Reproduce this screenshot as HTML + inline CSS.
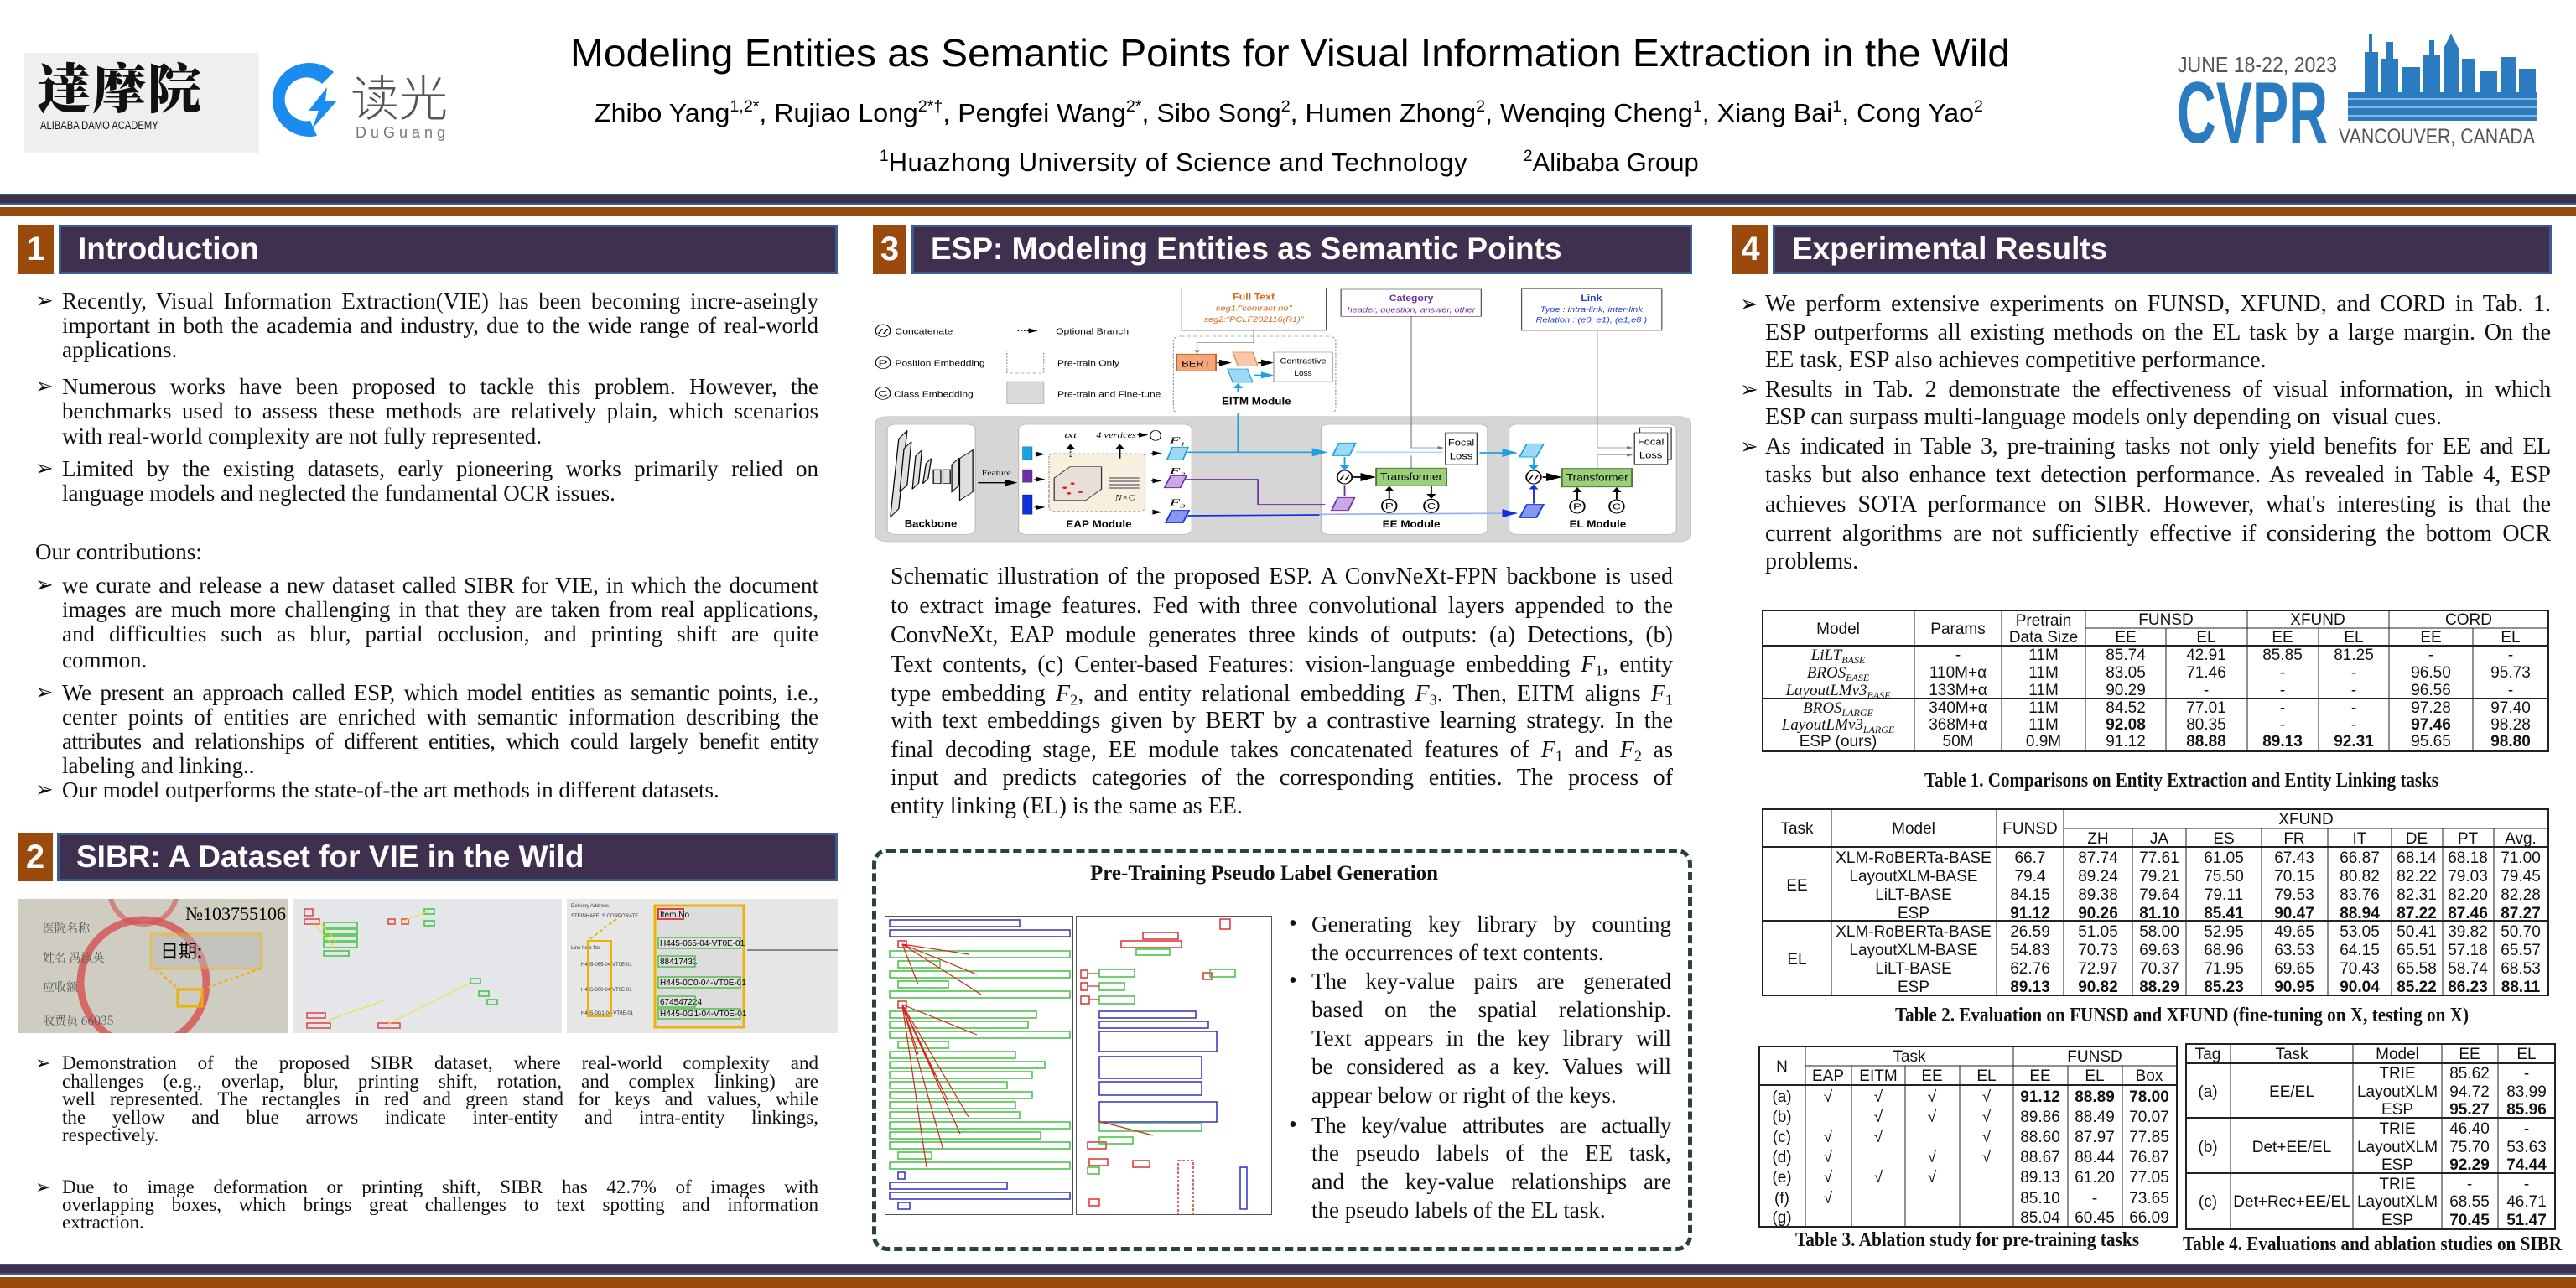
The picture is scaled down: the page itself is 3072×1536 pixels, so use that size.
<!DOCTYPE html>
<html><head><meta charset="utf-8">
<style>
*{margin:0;padding:0;box-sizing:border-box}
body{width:3072px;height:1536px;background:#fff;position:relative;overflow:hidden;font-family:"Liberation Serif",serif;color:#111}
.a{position:absolute}
.ln{position:absolute;height:24px;line-height:24px;white-space:nowrap;font-size:23px}
.i{height:28px;line-height:28px;font-size:27px}
.s{height:22px;line-height:22px;font-size:23px}
.j{text-align:justify;text-align-last:justify}
.hd{position:absolute;background:#403050;border:3px solid #3b5c8c;color:#fff;font-family:"Liberation Sans",sans-serif;font-weight:bold;font-size:37px;line-height:52px;padding-left:20px}
.nb{position:absolute;background:#9a4a0c;color:#fff;font-family:"Liberation Sans",sans-serif;font-weight:bold;font-size:40px;text-align:center;line-height:59px}
.c2{font-size:28px;height:34px;line-height:34px}
.bul{position:absolute;font-size:22px;line-height:24px}
.bi{font-size:26px;line-height:28px}
sub{font-size:65%;vertical-align:-0.25em;line-height:0}
</style></head><body>

<!-- Header -->
<div class="a" style="left:29px;top:63px;width:280px;height:119px;background:#efefef"></div>
<div class="a" style="left:44px;top:64px;font-family:'Noto Serif CJK SC',serif;font-weight:900;font-size:64px;line-height:76px;letter-spacing:2px">達摩院</div>
<div class="a" style="left:48px;top:141px;font-family:'Liberation Sans',sans-serif;font-size:14px;line-height:16px;transform:scaleX(0.8);transform-origin:left">ALIBABA DAMO ACADEMY</div>
<svg class="a" style="left:318px;top:74px" width="92" height="96" viewBox="0 0 92 96">
<path d="M80 12 A44 44 0 1 0 60 88 L52 70 A26 26 0 1 1 66 26 Z" fill="#1a8cf0"/>
<path d="M72 30 L50 58 L62 58 L54 80 L84 46 L70 46 Z" fill="#1a8cf0"/>
</svg>
<div class="a" style="left:418px;top:78px;font-family:'Noto Sans CJK SC',sans-serif;font-weight:300;font-size:58px;line-height:70px;color:#555">读光</div>
<div class="a" style="left:424px;top:148px;font-family:'Liberation Sans',sans-serif;font-size:18px;letter-spacing:5px;color:#777">DuGuang</div>

<svg class="a" style="left:0;top:0" width="3072" height="230">
<text x="680" y="79" font-family="Liberation Sans" font-size="46" textLength="1717" lengthAdjust="spacingAndGlyphs">Modeling Entities as Semantic Points for Visual Information Extraction in the Wild</text>
<text x="709" y="145" font-family="Liberation Sans" font-size="31" textLength="1656" lengthAdjust="spacingAndGlyphs">Zhibo Yang<tspan font-size="19" dy="-12">1,2*</tspan><tspan dy="12">, Rujiao Long</tspan><tspan font-size="19" dy="-12">2*†</tspan><tspan dy="12">, Pengfei Wang</tspan><tspan font-size="19" dy="-12">2*</tspan><tspan dy="12">, Sibo Song</tspan><tspan font-size="19" dy="-12">2</tspan><tspan dy="12">, Humen Zhong</tspan><tspan font-size="19" dy="-12">2</tspan><tspan dy="12">, Wenqing Cheng</tspan><tspan font-size="19" dy="-12">1</tspan><tspan dy="12">, Xiang Bai</tspan><tspan font-size="19" dy="-12">1</tspan><tspan dy="12">, Cong Yao</tspan><tspan font-size="19" dy="-12">2</tspan></text>
<text x="1049" y="204" font-family="Liberation Sans" font-size="31"><tspan font-size="19" dy="-12">1</tspan><tspan dy="12" textLength="690">Huazhong University of Science and Technology</tspan></text>
<text x="1817" y="204" font-family="Liberation Sans" font-size="31"><tspan font-size="19" dy="-12">2</tspan><tspan dy="12">Alibaba Group</tspan></text>
<text x="2597" y="86" font-family="Liberation Sans" font-size="26" fill="#555" textLength="190" lengthAdjust="spacingAndGlyphs">JUNE 18-22, 2023</text>
<text x="2596" y="170" font-family="Liberation Sans" font-weight="bold" font-size="104" fill="#2a7bbf" textLength="180" lengthAdjust="spacingAndGlyphs">CVPR</text>
<text x="2789" y="171" font-family="Liberation Sans" font-size="25" fill="#555" textLength="234" lengthAdjust="spacingAndGlyphs">VANCOUVER, CANADA</text>
<g fill="#2a7bbf">
<rect x="2800" y="110" width="225" height="34"/>
<rect x="2820" y="62" width="16" height="60"/><rect x="2825" y="40" width="4" height="25"/>
<rect x="2840" y="70" width="20" height="50"/><rect x="2846" y="50" width="8" height="22"/>
<rect x="2864" y="80" width="22" height="40"/>
<rect x="2890" y="65" width="20" height="55"/><rect x="2897" y="48" width="6" height="20"/>
<rect x="2914" y="58" width="18" height="62"/><polygon points="2914,58 2923,40 2932,58"/>
<rect x="2936" y="70" width="16" height="50"/>
<rect x="2958" y="85" width="20" height="35"/>
<rect x="2982" y="68" width="18" height="52"/>
<rect x="3004" y="82" width="20" height="38"/>
</g>
<g stroke="#fff" stroke-width="1.5" opacity="0.6">
<line x1="2800" y1="118" x2="3025" y2="118"/><line x1="2800" y1="128" x2="3025" y2="128"/><line x1="2800" y1="138" x2="3025" y2="138"/>
</g>
</svg>

<!-- Bands -->
<div class="a" style="left:0;top:231px;width:3072px;height:13px;background:#403050;border-top:2px solid #3b5c8c;border-bottom:2px solid #3b5c8c"></div>
<div class="a" style="left:0;top:247px;width:3072px;height:11px;background:#974a0b"></div>
<div class="a" style="left:0;top:1507px;width:3072px;height:13px;background:#403050;border-top:2px solid #3b5c8c;border-bottom:2px solid #3b5c8c"></div>
<div class="a" style="left:0;top:1523px;width:3072px;height:13px;background:#974a0b"></div>

<!-- Section headers -->
<div class="nb" style="left:21px;top:268px;width:43px;height:59px">1</div>
<div class="hd" style="left:70px;top:268px;width:929px;height:59px">Introduction</div>
<div class="nb" style="left:1041px;top:268px;width:40px;height:59px">3</div>
<div class="hd" style="left:1087px;top:268px;width:931px;height:59px">ESP: Modeling Entities as Semantic Points</div>
<div class="nb" style="left:2066px;top:268px;width:43px;height:59px">4</div>
<div class="hd" style="left:2114px;top:268px;width:929px;height:59px">Experimental Results</div>
<div class="nb" style="left:21px;top:993px;width:42px;height:58px;line-height:58px">2</div>
<div class="hd" style="left:68px;top:993px;width:931px;height:58px;line-height:51px">SIBR: A Dataset for VIE in the Wild</div>

<!-- Intro text -->
<div class="bul bi" style="left:42px;top:345px">➢</div>
<div class="ln i j" style="left:74px;top:345px;width:902px">Recently, Visual Information Extraction(VIE) has been becoming incre-aseingly</div>
<div class="ln i j" style="left:74px;top:374px;width:902px">important in both the academia and industry, due to the wide range of real-world</div>
<div class="ln i" style="left:74px;top:403px">applications.</div>
<div class="bul bi" style="left:42px;top:447px">➢</div>
<div class="ln i j" style="left:74px;top:447px;width:902px">Numerous works have been proposed to tackle this problem. However, the</div>
<div class="ln i j" style="left:74px;top:476px;width:902px">benchmarks used to assess these methods are relatively plain, which scenarios</div>
<div class="ln i" style="left:74px;top:506px">with real-world complexity are not fully represented.</div>
<div class="bul bi" style="left:42px;top:545px">➢</div>
<div class="ln i j" style="left:74px;top:545px;width:902px">Limited by the existing datasets, early pioneering works primarily relied on</div>
<div class="ln i" style="left:74px;top:574px">language models and neglected the fundamental OCR issues.</div>
<div class="ln i" style="left:42px;top:644px">Our contributions:</div>
<div class="bul bi" style="left:42px;top:684px">➢</div>
<div class="ln i j" style="left:74px;top:684px;width:902px">we curate and release a new dataset called SIBR for VIE, in which the document</div>
<div class="ln i j" style="left:74px;top:713px;width:902px">images are much more challenging in that they are taken from real applications,</div>
<div class="ln i j" style="left:74px;top:742px;width:902px">and difficulties such as blur, partial occlusion, and printing shift are quite</div>
<div class="ln i" style="left:74px;top:773px">common.</div>
<div class="bul bi" style="left:42px;top:812px">➢</div>
<div class="ln i j" style="left:74px;top:812px;width:902px;letter-spacing:-0.3px">We present an approach called ESP, which model entities as semantic points, i.e.,</div>
<div class="ln i j" style="left:74px;top:841px;width:902px">center points of entities are enriched with semantic information describing the</div>
<div class="ln i j" style="left:74px;top:870px;width:902px;letter-spacing:-0.6px">attributes and relationships of different entities, which could largely benefit entity</div>
<div class="ln i" style="left:74px;top:899px">labeling and linking..</div>
<div class="bul bi" style="left:42px;top:928px">➢</div>
<div class="ln i" style="left:74px;top:928px">Our model outperforms the state-of-the art methods in different datasets.</div>

<!-- SIBR images -->
<svg class="a" style="left:21px;top:1072px" width="978" height="160" viewBox="0 0 978 160">
<rect x="0" y="0" width="323" height="160" fill="#cfcdc2"/>
<circle cx="150" cy="100" r="75" fill="none" stroke="#d45050" stroke-width="9" opacity="0.8"/>
<circle cx="150" cy="-10" r="40" fill="none" stroke="#d45050" stroke-width="6" opacity="0.6"/>
<text x="200" y="25" font-family="Liberation Serif" font-size="22">№103755106</text>
<text x="30" y="40" font-family="Noto Serif CJK SC" font-size="14" fill="#555">医院名称</text>
<text x="30" y="75" font-family="Noto Serif CJK SC" font-size="14" fill="#555">姓名 冯淑英</text>
<text x="30" y="110" font-family="Noto Serif CJK SC" font-size="14" fill="#555">应收额</text>
<text x="30" y="150" font-family="Noto Serif CJK SC" font-size="14" fill="#555">收费员 66035</text>
<rect x="159" y="42" width="132" height="41" fill="#bbb" opacity="0.5" stroke="#f0b000" stroke-width="3"/>
<text x="170" y="70" font-family="Noto Sans CJK SC" font-size="22">日期:</text>
<rect x="191" y="108" width="29" height="20" fill="none" stroke="#f0b000" stroke-width="3"/>
<line x1="165" y1="83" x2="192" y2="108" stroke="#f0b000" stroke-width="2" stroke-dasharray="4 3"/>
<line x1="290" y1="83" x2="220" y2="108" stroke="#f0b000" stroke-width="2" stroke-dasharray="4 3"/>
<rect x="328" y="0" width="321" height="160" fill="#e4e6ea"/>
<g fill="none" stroke="#e04040" stroke-width="1.5"><rect x="342" y="12" width="10" height="8"/><rect x="342" y="24" width="18" height="6"/><rect x="442" y="24" width="8" height="6"/><rect x="458" y="24" width="8" height="6"/><rect x="345" y="136" width="22" height="6"/><rect x="345" y="148" width="28" height="6"/><rect x="430" y="148" width="26" height="6"/></g>
<g fill="none" stroke="#40c040" stroke-width="1.5"><rect x="365" y="28" width="40" height="6"/><rect x="365" y="36" width="40" height="6"/><rect x="365" y="44" width="40" height="6"/><rect x="365" y="52" width="40" height="6"/><rect x="365" y="62" width="30" height="6"/><rect x="485" y="12" width="12" height="6"/><rect x="485" y="26" width="12" height="6"/><rect x="540" y="95" width="12" height="6"/><rect x="550" y="110" width="12" height="6"/><rect x="560" y="120" width="12" height="6"/></g>
<g stroke="#f0e020" stroke-width="1"><line x1="352" y1="28" x2="380" y2="60"/><line x1="360" y1="28" x2="380" y2="50"/><line x1="455" y1="28" x2="490" y2="15"/><line x1="370" y1="145" x2="440" y2="120"/><line x1="440" y1="150" x2="540" y2="100"/></g>
<rect x="655" y="0" width="323" height="160" fill="#e6e6e6"/>
<g font-family="Liberation Sans" font-size="6" fill="#333"><text x="660" y="10">Delivery Address</text><text x="660" y="22">STEINHAFELS CORPORATE</text><text x="660" y="60">Line  Item No</text><text x="672" y="80">H445-065-04-VT0E-01</text><text x="672" y="110">H445-000-04-VT0E-01</text><text x="672" y="138">H445-0G1-04-VT0E-01</text></g>
<rect x="680" y="50" width="28" height="90" fill="none" stroke="#f0b000" stroke-width="2"/>
<rect x="760" y="8" width="106" height="145" fill="#ddd" stroke="#f0b000" stroke-width="3"/>
<rect x="764" y="12" width="30" height="12" fill="none" stroke="#e04040" stroke-width="2"/>
<text x="766" y="22" font-family="Liberation Sans" font-size="10">Item No</text>
<g font-family="Liberation Sans" font-size="10"><text x="766" y="56">H445-065-04-VT0E-01</text><text x="766" y="78">88417431</text><text x="766" y="103">H445-0C0-04-VT0E-01</text><text x="766" y="126">674547224</text><text x="766" y="140">H445-0G1-04-VT0E-01</text></g>
<g fill="none" stroke="#50c050" stroke-width="1.5"><rect x="764" y="46" width="98" height="13"/><rect x="764" y="68" width="44" height="13"/><rect x="764" y="93" width="98" height="13"/><rect x="764" y="116" width="44" height="13"/><rect x="764" y="131" width="98" height="12"/></g>
<line x1="714" y1="24" x2="680" y2="50" stroke="#f0b000" stroke-width="2" stroke-dasharray="4 3"/>
<rect x="870" y="60" width="108" height="2" fill="#888"/>
</svg>

<!-- SIBR text -->
<div class="bul" style="left:42px;top:1256px">➢</div>
<div class="ln s j" style="left:74px;top:1257px;width:902px">Demonstration of the proposed SIBR dataset, where real-world complexity and</div>
<div class="ln s j" style="left:74px;top:1279px;width:902px">challenges (e.g., overlap, blur, printing shift, rotation, and complex linking) are</div>
<div class="ln s j" style="left:74px;top:1300px;width:902px">well represented. The rectangles in red and green stand for keys and values, while</div>
<div class="ln s j" style="left:74px;top:1322px;width:902px">the yellow and blue arrows indicate inter-entity and intra-entity linkings,</div>
<div class="ln s" style="left:74px;top:1343px">respectively.</div>
<div class="bul" style="left:42px;top:1404px">➢</div>
<div class="ln s j" style="left:74px;top:1405px;width:902px">Due to image deformation or printing shift, SIBR has 42.7% of images with</div>
<div class="ln s j" style="left:74px;top:1426px;width:902px">overlapping boxes, which brings great challenges to text spotting and information</div>
<div class="ln s" style="left:74px;top:1447px">extraction.</div>

<!-- ESP diagram -->
<svg class="a" style="left:1038px;top:330px" width="982" height="320" viewBox="0 0 1568 960" preserveAspectRatio="none" font-family="Liberation Sans">
<defs>
<marker id="ak" markerWidth="6" markerHeight="6" refX="5" refY="3" orient="auto"><path d="M0,0 L6,3 L0,6 Z" fill="#000"/></marker>
<marker id="ac" markerWidth="6" markerHeight="6" refX="5" refY="3" orient="auto"><path d="M0,0 L6,3 L0,6 Z" fill="#1aa3e0"/></marker>
<marker id="ab" markerWidth="6" markerHeight="6" refX="5" refY="3" orient="auto"><path d="M0,0 L6,3 L0,6 Z" fill="#1030e0"/></marker>
<marker id="ag" markerWidth="6" markerHeight="6" refX="5" refY="3" orient="auto"><path d="M0,0 L6,3 L0,6 Z" fill="#777"/></marker>
</defs>
<g stroke="#000" stroke-width="2" fill="#fff">
<ellipse cx="24" cy="193" rx="14" ry="22"/><ellipse cx="24" cy="307" rx="14" ry="22"/><ellipse cx="24" cy="417" rx="14" ry="22"/>
</g>
<g font-size="30">
<text x="14" y="204" font-size="24" textLength="20" lengthAdjust="spacingAndGlyphs">//</text>
<text x="15" y="318" font-size="28" textLength="18" lengthAdjust="spacingAndGlyphs">P</text>
<text x="15" y="428" font-size="28" textLength="18" lengthAdjust="spacingAndGlyphs">C</text>
<text x="47" y="205" textLength="110" lengthAdjust="spacingAndGlyphs">Concatenate</text>
<text x="47" y="320" textLength="171" lengthAdjust="spacingAndGlyphs">Position Embedding</text>
<text x="45" y="430" textLength="151" lengthAdjust="spacingAndGlyphs">Class Embedding</text>
<text x="353" y="205" textLength="139" lengthAdjust="spacingAndGlyphs">Optional Branch</text>
<text x="356" y="320" textLength="118" lengthAdjust="spacingAndGlyphs">Pre-train Only</text>
<text x="356" y="430" textLength="197" lengthAdjust="spacingAndGlyphs">Pre-train and Fine-tune</text>
</g>
<line x1="280" y1="193" x2="316" y2="193" stroke="#000" stroke-width="3" stroke-dasharray="3 3" marker-end="url(#ak)"/>
<rect x="260" y="265" width="70" height="80" fill="none" stroke="#999" stroke-width="2" stroke-dasharray="6 5"/>
<rect x="260" y="375" width="70" height="80" fill="#d9d9d9" stroke="#bbb" stroke-width="2"/>
<rect x="593" y="40" width="275" height="152" fill="#fff" stroke="#555" stroke-width="2"/>
<text x="730" y="82" text-anchor="middle" font-size="32" font-weight="bold" fill="#d2691e" textLength="80" lengthAdjust="spacingAndGlyphs">Full Text</text>
<text x="730" y="122" text-anchor="middle" font-size="28" font-style="italic" fill="#d2691e" textLength="145" lengthAdjust="spacingAndGlyphs">seg1:"contract no"</text>
<text x="730" y="162" text-anchor="middle" font-size="28" font-style="italic" fill="#d2691e" textLength="190" lengthAdjust="spacingAndGlyphs">seg2:"PCLF202116(R1)"</text>
<rect x="896" y="45" width="267" height="97" fill="#fff" stroke="#555" stroke-width="2"/>
<text x="1030" y="87" text-anchor="middle" font-size="32" font-weight="bold" fill="#7030a0" textLength="84" lengthAdjust="spacingAndGlyphs">Category</text>
<text x="1030" y="127" text-anchor="middle" font-size="28" font-style="italic" fill="#7030a0" textLength="244" lengthAdjust="spacingAndGlyphs">header, question, answer, other</text>
<rect x="1240" y="44" width="267" height="148" fill="#fff" stroke="#555" stroke-width="2"/>
<text x="1373" y="87" text-anchor="middle" font-size="32" font-weight="bold" fill="#1f3fcf" textLength="40" lengthAdjust="spacingAndGlyphs">Link</text>
<text x="1373" y="126" text-anchor="middle" font-size="28" font-style="italic" fill="#1f3fcf" textLength="195" lengthAdjust="spacingAndGlyphs">Type : intra-link, inter-link</text>
<text x="1373" y="164" text-anchor="middle" font-size="28" font-style="italic" fill="#1f3fcf" textLength="212" lengthAdjust="spacingAndGlyphs">Relation : (e0, e1), (e1,e8 )</text>
<rect x="577" y="213" width="309" height="275" rx="14" fill="none" stroke="#999" stroke-width="2" stroke-dasharray="7 5"/>
<polyline points="730,192 730,236 622,236 622,272" fill="none" stroke="#777" stroke-width="2" marker-end="url(#ag)"/>
<rect x="583" y="277" width="75" height="60" fill="#f4a77a" stroke="#c0622a" stroke-width="3"/>
<text x="620" y="322" text-anchor="middle" font-size="34" textLength="55" lengthAdjust="spacingAndGlyphs">BERT</text>
<line x1="660" y1="308" x2="684" y2="308" stroke="#000" stroke-width="4" marker-end="url(#ak)"/>
<polygon points="700,320 738,320 728,270 690,270" fill="#f8c8a8" stroke="#f08040" stroke-width="2"/>
<line x1="738" y1="308" x2="764" y2="308" stroke="#000" stroke-width="4" marker-end="url(#ak)"/>
<polygon points="690,378 728,378 718,330 680,330" fill="#9fd8f4" stroke="#1aa3e0" stroke-width="2"/>
<line x1="730" y1="352" x2="764" y2="352" stroke="#1aa3e0" stroke-width="4" marker-end="url(#ac)"/>
<rect x="768" y="270" width="112" height="105" fill="#fff" stroke="#999" stroke-width="2"/>
<text x="824" y="310" text-anchor="middle" font-size="28" textLength="88" lengthAdjust="spacingAndGlyphs">Contrastive</text>
<text x="824" y="354" text-anchor="middle" font-size="28" textLength="34" lengthAdjust="spacingAndGlyphs">Loss</text>
<line x1="700" y1="412" x2="700" y2="384" stroke="#1aa3e0" stroke-width="3" marker-end="url(#ac)"/>
<text x="735" y="457" text-anchor="middle" font-size="36" font-weight="bold" textLength="132" lengthAdjust="spacingAndGlyphs">EITM Module</text>
<rect x="10" y="500" width="1552" height="448" rx="22" fill="#d6d6d6" stroke="#c4c4c4" stroke-width="2"/>
<g fill="#fff" stroke="#bbb" stroke-width="2">
<rect x="32" y="528" width="168" height="394" rx="16"/>
<rect x="282" y="528" width="330" height="394" rx="16"/>
<rect x="858" y="528" width="317" height="394" rx="16"/>
<rect x="1216" y="528" width="319" height="394" rx="16"/>
</g>
<g fill="#e0e0e0" stroke="#000" stroke-width="2">
<polygon points="38,860 54,830 70,550 54,580"/>
<polygon points="56,770 70,745 78,590 64,615"/>
<polygon points="80,760 92,738 98,620 86,642"/>
<polygon points="100,740 110,722 116,650 106,668"/>
<rect x="120" y="690" width="14" height="50"/><rect x="138" y="690" width="14" height="50"/>
<polygon points="155,770 168,748 168,650 155,672"/>
<polygon points="170,800 195,770 195,620 170,650"/>
</g>
<text x="115" y="895" text-anchor="middle" font-size="36" font-weight="bold" textLength="100" lengthAdjust="spacingAndGlyphs">Backbone</text>
<text x="240" y="710" text-anchor="middle" font-size="26" font-family="Liberation Serif" textLength="56" lengthAdjust="spacingAndGlyphs">Feature</text>
<line x1="205" y1="737" x2="276" y2="737" stroke="#000" stroke-width="4" marker-end="url(#ak)"/>
<rect x="290" y="608" width="18" height="46" fill="#1aa3e0" stroke="#0b5f9a"/>
<rect x="290" y="690" width="18" height="46" fill="#7030a0" stroke="#4a1070"/>
<rect x="290" y="780" width="18" height="70" fill="#1030e0" stroke="#001090"/>
<g stroke="#000" stroke-width="3" marker-end="url(#ak)"><line x1="312" y1="635" x2="330" y2="635"/><line x1="312" y1="725" x2="330" y2="725"/><line x1="312" y1="825" x2="330" y2="825"/></g>
<rect x="340" y="633" width="183" height="205" rx="10" fill="#f8efdf" stroke="#888" stroke-width="2" stroke-dasharray="5 4"/>
<polygon points="350,800 410,800 440,760 440,680 380,680 350,720" fill="#e8e0d8" stroke="#333" stroke-width="2"/>
<g fill="#e02020"><circle cx="370" cy="755" r="4"/><circle cx="385" cy="740" r="4"/><circle cx="400" cy="770" r="4"/><circle cx="378" cy="775" r="4"/></g>
<g stroke="#888" stroke-width="5"><line x1="455" y1="720" x2="512" y2="720"/><line x1="455" y1="732" x2="512" y2="732"/><line x1="455" y1="744" x2="512" y2="744"/><line x1="455" y1="756" x2="512" y2="756"/></g>
<text x="485" y="800" text-anchor="middle" font-size="28" font-family="Liberation Serif" font-style="italic" textLength="38" lengthAdjust="spacingAndGlyphs">N×C</text>
<text x="381" y="576" text-anchor="middle" font-size="28" font-family="Liberation Serif" font-style="italic" textLength="24" lengthAdjust="spacingAndGlyphs">txt</text>
<text x="430" y="576" font-size="28" font-family="Liberation Serif" font-style="italic" textLength="76" lengthAdjust="spacingAndGlyphs">4 vertices</text>
<line x1="508" y1="566" x2="526" y2="566" stroke="#000" stroke-width="3" marker-end="url(#ak)"/>
<ellipse cx="543" cy="568" rx="10" ry="18" fill="#fff" stroke="#000" stroke-width="2"/>
<line x1="381" y1="645" x2="381" y2="602" stroke="#000" stroke-width="3" stroke-dasharray="4 4" marker-end="url(#ak)"/>
<line x1="475" y1="650" x2="475" y2="602" stroke="#000" stroke-width="3" marker-end="url(#ak)"/>
<g stroke="#000" stroke-width="3" marker-end="url(#ak)"><line x1="535" y1="632" x2="552" y2="632"/><line x1="535" y1="730" x2="552" y2="730"/><line x1="535" y1="842" x2="552" y2="842"/></g>
<g font-family="Liberation Serif" font-style="italic" font-size="32"><text x="570" y="596">F<tspan font-size="20" dy="8">1</tspan></text><text x="570" y="705">F<tspan font-size="20" dy="8">2</tspan></text><text x="570" y="818">F<tspan font-size="20" dy="8">3</tspan></text></g>
<polygon points="565,655 595,655 605,610 575,610" fill="#9fd8f4" stroke="#1aa3e0" stroke-width="3"/>
<polygon points="560,755 590,755 602,712 572,712" fill="#c8a8e8" stroke="#7030a0" stroke-width="3"/>
<polygon points="562,880 595,880 607,836 574,836" fill="#8898f0" stroke="#1030e0" stroke-width="3"/>
<text x="435" y="897" text-anchor="middle" font-size="36" font-weight="bold" textLength="125" lengthAdjust="spacingAndGlyphs">EAP Module</text>
<polyline points="604,628 866,628" fill="none" stroke="#1aa3e0" stroke-width="5" marker-end="url(#ac)"/>
<line x1="700" y1="628" x2="700" y2="488" stroke="#1aa3e0" stroke-width="3"/>
<polyline points="600,725 738,725 738,815 866,815" fill="none" stroke="#7030a0" stroke-width="3"/>
<line x1="604" y1="855" x2="855" y2="852" stroke="#1030e0" stroke-width="5"/>
<line x1="855" y1="850" x2="1228" y2="846" stroke="#9ab0f0" stroke-width="5" marker-end="url(#ab)"/>
<line x1="925" y1="628" x2="1090" y2="628" stroke="#a8dcf4" stroke-width="5"/>
<line x1="1160" y1="630" x2="1228" y2="630" stroke="#1aa3e0" stroke-width="5" marker-end="url(#ac)"/>
<polyline points="1030,142 1030,612 1090,612" fill="none" stroke="#888" stroke-width="2" marker-end="url(#ag)"/>
<polyline points="1384,192 1384,612 1450,612" fill="none" stroke="#888" stroke-width="2" marker-end="url(#ag)"/>
<line x1="1030" y1="685" x2="1030" y2="640" stroke="#888" stroke-width="2"/>
<polyline points="1384,686 1384,638 1450,638" fill="none" stroke="#888" stroke-width="2" marker-end="url(#ag)"/>
<polygon points="880,640 912,640 924,595 892,595" fill="#9fd8f4" stroke="#1aa3e0" stroke-width="3"/>
<polygon points="878,836 910,836 922,790 890,790" fill="#c8a8e8" stroke="#7030a0" stroke-width="3"/>
<line x1="903" y1="645" x2="903" y2="690" stroke="#1aa3e0" stroke-width="3" marker-end="url(#ac)"/>
<line x1="903" y1="785" x2="903" y2="745" stroke="#7030a0" stroke-width="3"/>
<ellipse cx="903" cy="717" rx="14" ry="24" fill="#fff" stroke="#000" stroke-width="3"/>
<text x="893" y="728" font-size="26" textLength="20" lengthAdjust="spacingAndGlyphs">//</text>
<line x1="920" y1="717" x2="958" y2="717" stroke="#000" stroke-width="5" marker-end="url(#ak)"/>
<rect x="963" y="685" width="134" height="63" fill="#9bcf7a" stroke="#4a7a30" stroke-width="3"/>
<text x="1030" y="728" text-anchor="middle" font-size="36" textLength="118" lengthAdjust="spacingAndGlyphs">Transformer</text>
<ellipse cx="988" cy="820" rx="14" ry="24" fill="#fff" stroke="#000" stroke-width="3"/>
<ellipse cx="1068" cy="820" rx="14" ry="24" fill="#fff" stroke="#000" stroke-width="3"/>
<text x="988" y="831" text-anchor="middle" font-size="30" textLength="16" lengthAdjust="spacingAndGlyphs">P</text>
<text x="1068" y="831" text-anchor="middle" font-size="30" textLength="16" lengthAdjust="spacingAndGlyphs">C</text>
<line x1="988" y1="795" x2="988" y2="752" stroke="#000" stroke-width="3" marker-end="url(#ak)"/>
<line x1="1068" y1="750" x2="1068" y2="792" stroke="#000" stroke-width="3" marker-end="url(#ak)"/>
<rect x="1095" y="558" width="60" height="114" fill="#fff" stroke="#333" stroke-width="2"/>
<text x="1125" y="605" text-anchor="middle" font-size="34" textLength="50" lengthAdjust="spacingAndGlyphs">Focal</text>
<text x="1125" y="652" text-anchor="middle" font-size="34" textLength="44" lengthAdjust="spacingAndGlyphs">Loss</text>
<text x="1030" y="897" text-anchor="middle" font-size="36" font-weight="bold" textLength="110" lengthAdjust="spacingAndGlyphs">EE Module</text>
<polygon points="1236,645 1268,645 1282,598 1250,598" fill="#9fd8f4" stroke="#1aa3e0" stroke-width="3"/>
<polygon points="1236,862 1268,862 1282,815 1250,815" fill="#8898f0" stroke="#1030e0" stroke-width="3"/>
<line x1="1263" y1="648" x2="1263" y2="690" stroke="#1aa3e0" stroke-width="3" marker-end="url(#ac)"/>
<line x1="1263" y1="812" x2="1263" y2="746" stroke="#1030e0" stroke-width="3" marker-end="url(#ab)"/>
<ellipse cx="1263" cy="717" rx="14" ry="24" fill="#fff" stroke="#000" stroke-width="3"/>
<text x="1253" y="728" font-size="26" textLength="20" lengthAdjust="spacingAndGlyphs">//</text>
<line x1="1280" y1="717" x2="1312" y2="717" stroke="#000" stroke-width="5" marker-end="url(#ak)"/>
<rect x="1317" y="686" width="133" height="66" fill="#9bcf7a" stroke="#4a7a30" stroke-width="3"/>
<text x="1384" y="731" text-anchor="middle" font-size="36" textLength="118" lengthAdjust="spacingAndGlyphs">Transformer</text>
<ellipse cx="1346" cy="822" rx="14" ry="24" fill="#fff" stroke="#000" stroke-width="3"/>
<ellipse cx="1421" cy="822" rx="14" ry="24" fill="#fff" stroke="#000" stroke-width="3"/>
<text x="1346" y="833" text-anchor="middle" font-size="30" textLength="16" lengthAdjust="spacingAndGlyphs">P</text>
<text x="1421" y="833" text-anchor="middle" font-size="30" textLength="16" lengthAdjust="spacingAndGlyphs">C</text>
<line x1="1346" y1="797" x2="1346" y2="756" stroke="#000" stroke-width="3" marker-end="url(#ak)"/>
<line x1="1421" y1="796" x2="1421" y2="756" stroke="#000" stroke-width="3" marker-end="url(#ak)"/>
<rect x="1465" y="540" width="60" height="112" fill="#fff" stroke="#333" stroke-width="2"/>
<rect x="1455" y="558" width="63" height="112" fill="#fff" stroke="#333" stroke-width="2"/>
<text x="1486" y="602" text-anchor="middle" font-size="34" textLength="50" lengthAdjust="spacingAndGlyphs">Focal</text>
<text x="1486" y="650" text-anchor="middle" font-size="34" textLength="44" lengthAdjust="spacingAndGlyphs">Loss</text>
<text x="1385" y="897" text-anchor="middle" font-size="36" font-weight="bold" textLength="108" lengthAdjust="spacingAndGlyphs">EL Module</text>
</svg>

<!-- Col2 paragraph -->
<div class="ln c2 j" style="left:1062px;top:671px;width:933px">Schematic illustration of the proposed ESP. A ConvNeXt-FPN backbone is used</div>
<div class="ln c2 j" style="left:1062px;top:706px;width:933px">to extract image features. Fed with three convolutional layers appended to the</div>
<div class="ln c2 j" style="left:1062px;top:741px;width:933px">ConvNeXt, EAP module generates three kinds of outputs: (a) Detections, (b)</div>
<div class="ln c2 j" style="left:1062px;top:776px;width:933px">Text contents, (c) Center-based Features: vision-language embedding <i>F</i><sub>1</sub>, entity</div>
<div class="ln c2 j" style="left:1062px;top:811px;width:933px">type embedding <i>F</i><sub>2</sub>, and entity relational embedding <i>F</i><sub>3</sub>. Then, EITM aligns <i>F</i><sub>1</sub></div>
<div class="ln c2 j" style="left:1062px;top:843px;width:933px">with text embeddings given by BERT by a contrastive learning strategy. In the</div>
<div class="ln c2 j" style="left:1062px;top:878px;width:933px">final decoding stage, EE module takes concatenated features of <i>F</i><sub>1</sub> and <i>F</i><sub>2</sub> as</div>
<div class="ln c2 j" style="left:1062px;top:911px;width:933px">input and predicts categories of the corresponding entities. The process of</div>
<div class="ln c2" style="left:1062px;top:945px">entity linking (EL) is the same as EE.</div>

<!-- Pre-training box -->
<div class="a" style="left:1040px;top:1012px;width:978px;height:480px;border:5px dashed #2b4535;border-radius:18px"></div>
<div class="a" style="left:1300px;top:1026px;width:407px;font-size:25px;font-weight:bold;text-align:center;line-height:32px;white-space:nowrap">Pre-Training Pseudo Label Generation</div>
<svg class="a" style="left:1055px;top:1092px" width="462" height="357" viewBox="0 0 462 357">
<rect x="0.5" y="0.5" width="224" height="356" fill="#fff" stroke="#555"/>
<rect x="228.5" y="0.5" width="233" height="356" fill="#fff" stroke="#555"/>
<g fill="none" stroke-width="1.5">
<rect x="6" y="5" width="155" height="8" stroke="#3030c0"/><rect x="6" y="17" width="215" height="8" stroke="#3030c0"/>
<rect x="16" y="30" width="10" height="8" stroke="#e03030"/>
<g stroke="#40c040"><rect x="6" y="42" width="215" height="8"/><rect x="16" y="54" width="50" height="8"/><rect x="6" y="66" width="215" height="8"/><rect x="16" y="78" width="60" height="8"/><rect x="6" y="90" width="215" height="8"/><rect x="6" y="114" width="175" height="8"/><rect x="6" y="126" width="165" height="8"/><rect x="6" y="138" width="215" height="8"/><rect x="16" y="150" width="60" height="8"/><rect x="6" y="162" width="150" height="8"/><rect x="6" y="174" width="185" height="8"/><rect x="6" y="186" width="170" height="8"/><rect x="6" y="198" width="140" height="8"/><rect x="6" y="210" width="170" height="8"/><rect x="6" y="222" width="150" height="8"/><rect x="6" y="234" width="155" height="8"/><rect x="6" y="246" width="215" height="8"/><rect x="6" y="258" width="180" height="8"/><rect x="6" y="270" width="215" height="8"/><rect x="16" y="282" width="40" height="8"/><rect x="6" y="294" width="215" height="8"/></g>
<rect x="16" y="102" width="10" height="8" stroke="#e03030"/>
<rect x="16" y="306" width="8" height="8" stroke="#3030c0"/><rect x="6" y="318" width="140" height="8" stroke="#3030c0"/><rect x="6" y="330" width="215" height="8" stroke="#3030c0"/><rect x="16" y="342" width="14" height="8" stroke="#3030c0"/>
</g>
<g stroke="#e02020" stroke-width="1.2">
<line x1="21" y1="34" x2="100" y2="46"/><line x1="21" y1="34" x2="40" y2="82"/><line x1="21" y1="34" x2="110" y2="70"/><line x1="21" y1="34" x2="115" y2="94"/>
<line x1="21" y1="106" x2="50" y2="300"/><line x1="21" y1="106" x2="70" y2="280"/><line x1="21" y1="106" x2="90" y2="260"/><line x1="21" y1="106" x2="100" y2="240"/><line x1="21" y1="106" x2="75" y2="220"/><line x1="21" y1="106" x2="110" y2="142"/><line x1="21" y1="106" x2="60" y2="190"/><line x1="21" y1="106" x2="40" y2="165"/>
</g>
<g fill="none" stroke-width="1.5">
<g stroke="#e03030"><rect x="400" y="4" width="12" height="12"/><rect x="308" y="20" width="42" height="8"/><rect x="282" y="30" width="72" height="8"/><rect x="234" y="65" width="8" height="9"/><rect x="234" y="80" width="8" height="9"/><rect x="234" y="96" width="10" height="9"/><rect x="380" y="68" width="10" height="8"/><rect x="244" y="338" width="12" height="8"/><rect x="242" y="270" width="22" height="8"/><rect x="244" y="290" width="22" height="8"/><rect x="296" y="292" width="20" height="8"/><rect x="350" y="292" width="18" height="80" stroke-dasharray="3 2"/></g>
<g stroke="#40c040"><rect x="300" y="40" width="40" height="7"/><rect x="256" y="64" width="42" height="9"/><rect x="256" y="80" width="30" height="9"/><rect x="256" y="96" width="42" height="9"/><rect x="388" y="64" width="30" height="9"/><rect x="256" y="248" width="122" height="9"/><rect x="256" y="264" width="40" height="8"/><rect x="242" y="300" width="14" height="8"/></g>
<g stroke="#3030c0"><rect x="256" y="114" width="115" height="8"/><rect x="256" y="126" width="130" height="8"/><rect x="256" y="138" width="140" height="24"/><rect x="256" y="168" width="122" height="26"/><rect x="256" y="198" width="122" height="16"/><rect x="256" y="222" width="140" height="24"/><rect x="424" y="300" width="8" height="50"/></g>
</g>
<g stroke="#e02020" stroke-width="1.2"><line x1="242" y1="69" x2="256" y2="69"/><line x1="242" y1="84" x2="256" y2="84"/><line x1="244" y1="100" x2="256" y2="100"/><line x1="255" y1="245" x2="320" y2="262"/></g>
</svg>
<div class="bul" style="left:1537px;top:1085px;font-size:28px;line-height:34px">•</div>
<div class="bul" style="left:1537px;top:1153px;font-size:28px;line-height:34px">•</div>
<div class="bul" style="left:1537px;top:1325px;font-size:28px;line-height:34px">•</div>
<div class="ln c2 j" style="left:1564px;top:1085px;width:429px;font-size:27px">Generating key library by counting</div>
<div class="ln c2" style="left:1564px;top:1119px;font-size:27px">the occurrences of text contents.</div>
<div class="ln c2 j" style="left:1564px;top:1153px;width:429px;font-size:27px">The key-value pairs are generated</div>
<div class="ln c2 j" style="left:1564px;top:1187px;width:429px;font-size:27px">based on the spatial relationship.</div>
<div class="ln c2 j" style="left:1564px;top:1221px;width:429px;font-size:27px">Text appears in the key library will</div>
<div class="ln c2 j" style="left:1564px;top:1255px;width:429px;font-size:27px">be considered as a key. Values will</div>
<div class="ln c2" style="left:1564px;top:1289px;font-size:27px">appear below or right of the keys.</div>
<div class="ln c2 j" style="left:1564px;top:1325px;width:429px;font-size:27px;letter-spacing:-0.3px">The key/value attributes are actually</div>
<div class="ln c2 j" style="left:1564px;top:1358px;width:429px;font-size:27px">the pseudo labels of the EE task,</div>
<div class="ln c2 j" style="left:1564px;top:1392px;width:429px;font-size:27px">and the key-value relationships are</div>
<div class="ln c2" style="left:1564px;top:1426px;font-size:27px">the pseudo labels of the EL task.</div>

<!-- Col3 text -->
<div class="bul" style="left:2075px;top:346px;font-size:26px;line-height:34px">➢</div>
<div class="ln c2 j" style="left:2105px;top:346px;width:937px">We perform extensive experiments on FUNSD, XFUND, and CORD in Tab. 1.</div>
<div class="ln c2 j" style="left:2105px;top:380px;width:937px">ESP outperforms all existing methods on the EL task by a large margin. On the</div>
<div class="ln c2" style="left:2105px;top:413px">EE task, ESP also achieves competitive performance.</div>
<div class="bul" style="left:2075px;top:448px;font-size:26px;line-height:34px">➢</div>
<div class="ln c2 j" style="left:2105px;top:448px;width:937px;letter-spacing:-0.3px">Results in Tab. 2 demonstrate the effectiveness of visual information, in which</div>
<div class="ln c2" style="left:2105px;top:481px">ESP can surpass multi-language models only depending on&nbsp; visual cues.</div>
<div class="bul" style="left:2075px;top:516px;font-size:26px;line-height:34px">➢</div>
<div class="ln c2 j" style="left:2105px;top:516px;width:937px;letter-spacing:-0.3px">As indicated in Table 3, pre-training tasks not only yield benefits for EE and EL</div>
<div class="ln c2 j" style="left:2105px;top:550px;width:937px">tasks but also enhance text detection performance. As revealed in Table 4, ESP</div>
<div class="ln c2 j" style="left:2105px;top:585px;width:937px">achieves SOTA performance on SIBR. However, what's interesting is that the</div>
<div class="ln c2 j" style="left:2105px;top:620px;width:937px">current algorithms are not sufficiently effective if considering the bottom OCR</div>
<div class="ln c2" style="left:2105px;top:653px">problems.</div>

<!-- Tables -->
<svg class="a" style="left:0;top:0" width="3072" height="1536" font-family="Liberation Sans Narrow, Liberation Sans, sans-serif" font-size="19">
<g stroke="#222" stroke-width="1" fill="none">
<rect x="2102" y="728" width="937" height="168" stroke-width="2"/>
<line x1="2487" y1="749" x2="3039" y2="749"/>
<line x1="2102" y1="770" x2="3039" y2="770" stroke-width="2"/>
<line x1="2102" y1="833" x2="3039" y2="833" stroke-width="2"/>
<line x1="2283" y1="728" x2="2283" y2="896"/><line x1="2387" y1="728" x2="2387" y2="896"/><line x1="2487" y1="728" x2="2487" y2="896"/><line x1="2680" y1="728" x2="2680" y2="896"/><line x1="2849" y1="728" x2="2849" y2="896"/>
<line x1="2583" y1="749" x2="2583" y2="896"/><line x1="2765" y1="749" x2="2765" y2="896"/><line x1="2949" y1="749" x2="2949" y2="896"/>
<rect x="2102" y="965" width="937" height="222" stroke-width="2"/>
<line x1="2461" y1="988" x2="3039" y2="988"/>
<line x1="2102" y1="1010" x2="3039" y2="1010" stroke-width="2"/>
<line x1="2102" y1="1098" x2="3039" y2="1098" stroke-width="2"/>
<line x1="2184" y1="965" x2="2184" y2="1187"/><line x1="2381" y1="965" x2="2381" y2="1187"/><line x1="2461" y1="965" x2="2461" y2="1187"/>
<line x1="2543" y1="988" x2="2543" y2="1187"/><line x1="2607" y1="988" x2="2607" y2="1187"/><line x1="2697" y1="988" x2="2697" y2="1187"/><line x1="2776" y1="988" x2="2776" y2="1187"/><line x1="2852" y1="988" x2="2852" y2="1187"/><line x1="2913" y1="988" x2="2913" y2="1187"/><line x1="2974" y1="988" x2="2974" y2="1187"/>
<rect x="2098" y="1248" width="498" height="215" stroke-width="2"/>
<line x1="2153" y1="1271" x2="2596" y2="1271"/>
<line x1="2098" y1="1294" x2="2596" y2="1294" stroke-width="2"/>
<line x1="2153" y1="1248" x2="2153" y2="1463"/><line x1="2401" y1="1248" x2="2401" y2="1463"/>
<line x1="2208" y1="1271" x2="2208" y2="1463"/><line x1="2272" y1="1271" x2="2272" y2="1463"/><line x1="2337" y1="1271" x2="2337" y2="1463"/><line x1="2466" y1="1271" x2="2466" y2="1463"/><line x1="2531" y1="1271" x2="2531" y2="1463"/>
<rect x="2607" y="1245" width="440" height="221" stroke-width="2"/>
<line x1="2607" y1="1268" x2="3047" y2="1268" stroke-width="2"/>
<line x1="2607" y1="1333" x2="3047" y2="1333" stroke-width="2"/>
<line x1="2607" y1="1399" x2="3047" y2="1399" stroke-width="2"/>
<line x1="2660" y1="1245" x2="2660" y2="1466"/><line x1="2806" y1="1245" x2="2806" y2="1466"/><line x1="2912" y1="1245" x2="2912" y2="1466"/><line x1="2979" y1="1245" x2="2979" y2="1466"/>
</g>
<g text-anchor="middle" fill="#111">
<text x="2192" y="756">Model</text><text x="2335" y="756">Params</text>
<text x="2437" y="746">Pretrain</text><text x="2437" y="766">Data Size</text>
<text x="2583" y="745">FUNSD</text><text x="2764" y="745">XFUND</text><text x="2944" y="745">CORD</text>
<text x="2535" y="766">EE</text><text x="2631" y="766">EL</text><text x="2722" y="766">EE</text><text x="2807" y="766">EL</text><text x="2899" y="766">EE</text><text x="2994" y="766">EL</text>
<g font-style="italic" font-family="Liberation Serif">
<text x="2192" y="787">LiLT<tspan font-size="12" dy="4">BASE</tspan></text>
<text x="2192" y="808">BROS<tspan font-size="12" dy="4">BASE</tspan></text>
<text x="2192" y="829">LayoutLMv3<tspan font-size="12" dy="4">BASE</tspan></text>
<text x="2192" y="850">BROS<tspan font-size="12" dy="4">LARGE</tspan></text>
<text x="2192" y="870">LayoutLMv3<tspan font-size="12" dy="4">LARGE</tspan></text>
</g>
<text x="2192" y="890">ESP (ours)</text>
<text x="2335" y="787">-</text><text x="2335" y="808">110M+α</text><text x="2335" y="829">133M+α</text><text x="2335" y="850">340M+α</text><text x="2335" y="870">368M+α</text><text x="2335" y="890">50M</text>
<text x="2437" y="787">11M</text><text x="2437" y="808">11M</text><text x="2437" y="829">11M</text><text x="2437" y="850">11M</text><text x="2437" y="870">11M</text><text x="2437" y="890">0.9M</text>
<text x="2535" y="787">85.74</text><text x="2535" y="808">83.05</text><text x="2535" y="829">90.29</text><text x="2535" y="850">84.52</text><text x="2535" y="870" font-weight="bold">92.08</text><text x="2535" y="890">91.12</text>
<text x="2631" y="787">42.91</text><text x="2631" y="808">71.46</text><text x="2631" y="829">-</text><text x="2631" y="850">77.01</text><text x="2631" y="870">80.35</text><text x="2631" y="890" font-weight="bold">88.88</text>
<text x="2722" y="787">85.85</text><text x="2722" y="808">-</text><text x="2722" y="829">-</text><text x="2722" y="850">-</text><text x="2722" y="870">-</text><text x="2722" y="890" font-weight="bold">89.13</text>
<text x="2807" y="787">81.25</text><text x="2807" y="808">-</text><text x="2807" y="829">-</text><text x="2807" y="850">-</text><text x="2807" y="870">-</text><text x="2807" y="890" font-weight="bold">92.31</text>
<text x="2899" y="787">-</text><text x="2899" y="808">96.50</text><text x="2899" y="829">96.56</text><text x="2899" y="850">97.28</text><text x="2899" y="870" font-weight="bold">97.46</text><text x="2899" y="890">95.65</text>
<text x="2994" y="787">-</text><text x="2994" y="808">95.73</text><text x="2994" y="829">-</text><text x="2994" y="850">97.40</text><text x="2994" y="870">98.28</text><text x="2994" y="890" font-weight="bold">98.80</text>
<text x="2143" y="994">Task</text><text x="2282" y="994">Model</text><text x="2421" y="994">FUNSD</text><text x="2750" y="983">XFUND</text>
<text x="2502" y="1006">ZH</text><text x="2575" y="1006">JA</text><text x="2652" y="1006">ES</text><text x="2736" y="1006">FR</text><text x="2814" y="1006">IT</text><text x="2882" y="1006">DE</text><text x="2943" y="1006">PT</text><text x="3006" y="1006">Avg.</text>
<text x="2143" y="1062">EE</text><text x="2143" y="1150">EL</text>
<text x="2282" y="1029">XLM-RoBERTa-BASE</text><text x="2282" y="1051">LayoutXLM-BASE</text><text x="2282" y="1073">LiLT-BASE</text><text x="2282" y="1095">ESP</text>
<text x="2282" y="1117">XLM-RoBERTa-BASE</text><text x="2282" y="1139">LayoutXLM-BASE</text><text x="2282" y="1161">LiLT-BASE</text><text x="2282" y="1183">ESP</text>
<g>
<text y="1029"><tspan x="2421">66.7</tspan><tspan x="2502">87.74</tspan><tspan x="2575">77.61</tspan><tspan x="2652">61.05</tspan><tspan x="2736">67.43</tspan><tspan x="2814">66.87</tspan><tspan x="2882">68.14</tspan><tspan x="2943">68.18</tspan><tspan x="3006">71.00</tspan></text>
<text y="1051"><tspan x="2421">79.4</tspan><tspan x="2502">89.24</tspan><tspan x="2575">79.21</tspan><tspan x="2652">75.50</tspan><tspan x="2736">70.15</tspan><tspan x="2814">80.82</tspan><tspan x="2882">82.22</tspan><tspan x="2943">79.03</tspan><tspan x="3006">79.45</tspan></text>
<text y="1073"><tspan x="2421">84.15</tspan><tspan x="2502">89.38</tspan><tspan x="2575">79.64</tspan><tspan x="2652">79.11</tspan><tspan x="2736">79.53</tspan><tspan x="2814">83.76</tspan><tspan x="2882">82.31</tspan><tspan x="2943">82.20</tspan><tspan x="3006">82.28</tspan></text>
<text y="1095" font-weight="bold"><tspan x="2421">91.12</tspan><tspan x="2502">90.26</tspan><tspan x="2575">81.10</tspan><tspan x="2652">85.41</tspan><tspan x="2736">90.47</tspan><tspan x="2814">88.94</tspan><tspan x="2882">87.22</tspan><tspan x="2943">87.46</tspan><tspan x="3006">87.27</tspan></text>
<text y="1117"><tspan x="2421">26.59</tspan><tspan x="2502">51.05</tspan><tspan x="2575">58.00</tspan><tspan x="2652">52.95</tspan><tspan x="2736">49.65</tspan><tspan x="2814">53.05</tspan><tspan x="2882">50.41</tspan><tspan x="2943">39.82</tspan><tspan x="3006">50.70</tspan></text>
<text y="1139"><tspan x="2421">54.83</tspan><tspan x="2502">70.73</tspan><tspan x="2575">69.63</tspan><tspan x="2652">68.96</tspan><tspan x="2736">63.53</tspan><tspan x="2814">64.15</tspan><tspan x="2882">65.51</tspan><tspan x="2943">57.18</tspan><tspan x="3006">65.57</tspan></text>
<text y="1161"><tspan x="2421">62.76</tspan><tspan x="2502">72.97</tspan><tspan x="2575">70.37</tspan><tspan x="2652">71.95</tspan><tspan x="2736">69.65</tspan><tspan x="2814">70.43</tspan><tspan x="2882">65.58</tspan><tspan x="2943">58.74</tspan><tspan x="3006">68.53</tspan></text>
<text y="1183" font-weight="bold"><tspan x="2421">89.13</tspan><tspan x="2502">90.82</tspan><tspan x="2575">88.29</tspan><tspan x="2652">85.23</tspan><tspan x="2736">90.95</tspan><tspan x="2814">90.04</tspan><tspan x="2882">85.22</tspan><tspan x="2943">86.23</tspan><tspan x="3006">88.11</tspan></text>
</g>
<text x="2125" y="1278">N</text><text x="2277" y="1266">Task</text><text x="2498" y="1266">FUNSD</text>
<text y="1289"><tspan x="2180">EAP</tspan><tspan x="2240">EITM</tspan><tspan x="2304">EE</tspan><tspan x="2369">EL</tspan><tspan x="2433">EE</tspan><tspan x="2498">EL</tspan><tspan x="2563">Box</tspan></text>
<text y="1314"><tspan x="2125">(a)</tspan><tspan x="2180">√</tspan><tspan x="2240">√</tspan><tspan x="2304">√</tspan><tspan x="2369">√</tspan></text>
<text y="1314" font-weight="bold"><tspan x="2433">91.12</tspan><tspan x="2498">88.89</tspan><tspan x="2563">78.00</tspan></text>
<text y="1338"><tspan x="2125">(b)</tspan><tspan x="2240">√</tspan><tspan x="2304">√</tspan><tspan x="2369">√</tspan><tspan x="2433">89.86</tspan><tspan x="2498">88.49</tspan><tspan x="2563">70.07</tspan></text>
<text y="1362"><tspan x="2125">(c)</tspan><tspan x="2180">√</tspan><tspan x="2240">√</tspan><tspan x="2369">√</tspan><tspan x="2433">88.60</tspan><tspan x="2498">87.97</tspan><tspan x="2563">77.85</tspan></text>
<text y="1386"><tspan x="2125">(d)</tspan><tspan x="2180">√</tspan><tspan x="2304">√</tspan><tspan x="2369">√</tspan><tspan x="2433">88.67</tspan><tspan x="2498">88.44</tspan><tspan x="2563">76.87</tspan></text>
<text y="1410"><tspan x="2125">(e)</tspan><tspan x="2180">√</tspan><tspan x="2240">√</tspan><tspan x="2304">√</tspan><tspan x="2433">89.13</tspan><tspan x="2498">61.20</tspan><tspan x="2563">77.05</tspan></text>
<text y="1435"><tspan x="2125">(f)</tspan><tspan x="2180">√</tspan><tspan x="2433">85.10</tspan><tspan x="2498">-</tspan><tspan x="2563">73.65</tspan></text>
<text y="1458"><tspan x="2125">(g)</tspan><tspan x="2433">85.04</tspan><tspan x="2498">60.45</tspan><tspan x="2563">66.09</tspan></text>
<text y="1263"><tspan x="2633">Tag</tspan><tspan x="2733">Task</tspan><tspan x="2859">Model</tspan><tspan x="2945">EE</tspan><tspan x="3013">EL</tspan></text>
<text x="2633" y="1308">(a)</text><text x="2733" y="1308">EE/EL</text>
<text x="2633" y="1374">(b)</text><text x="2733" y="1374">Det+EE/EL</text>
<text x="2633" y="1439">(c)</text><text x="2733" y="1439">Det+Rec+EE/EL</text>
<text y="1286"><tspan x="2859">TRIE</tspan><tspan x="2945">85.62</tspan><tspan x="3013">-</tspan></text>
<text y="1308"><tspan x="2859">LayoutXLM</tspan><tspan x="2945">94.72</tspan><tspan x="3013">83.99</tspan></text>
<text y="1329"><tspan x="2859">ESP</tspan><tspan x="2945" font-weight="bold">95.27</tspan><tspan x="3013" font-weight="bold">85.96</tspan></text>
<text y="1352"><tspan x="2859">TRIE</tspan><tspan x="2945">46.40</tspan><tspan x="3013">-</tspan></text>
<text y="1374"><tspan x="2859">LayoutXLM</tspan><tspan x="2945">75.70</tspan><tspan x="3013">53.63</tspan></text>
<text y="1395"><tspan x="2859">ESP</tspan><tspan x="2945" font-weight="bold">92.29</tspan><tspan x="3013" font-weight="bold">74.44</tspan></text>
<text y="1418"><tspan x="2859">TRIE</tspan><tspan x="2945">-</tspan><tspan x="3013">-</tspan></text>
<text y="1439"><tspan x="2859">LayoutXLM</tspan><tspan x="2945">68.55</tspan><tspan x="3013">46.71</tspan></text>
<text y="1461"><tspan x="2859">ESP</tspan><tspan x="2945" font-weight="bold">70.45</tspan><tspan x="3013" font-weight="bold">51.47</tspan></text>
</g>
<g font-family="Liberation Serif" font-size="24" font-weight="bold" fill="#111">
<text x="2295" y="938" textLength="613" lengthAdjust="spacingAndGlyphs">Table 1. Comparisons on Entity Extraction and Entity Linking tasks</text>
<text x="2260" y="1218" textLength="684" lengthAdjust="spacingAndGlyphs">Table 2. Evaluation on FUNSD and XFUND (fine-tuning on X, testing on X)</text>
<text x="2141" y="1486" textLength="410" lengthAdjust="spacingAndGlyphs">Table 3. Ablation study for pre-training tasks</text>
<text x="2603" y="1491" textLength="452" lengthAdjust="spacingAndGlyphs">Table 4. Evaluations and ablation studies on SIBR</text>
</g>
</svg>
</body></html>
